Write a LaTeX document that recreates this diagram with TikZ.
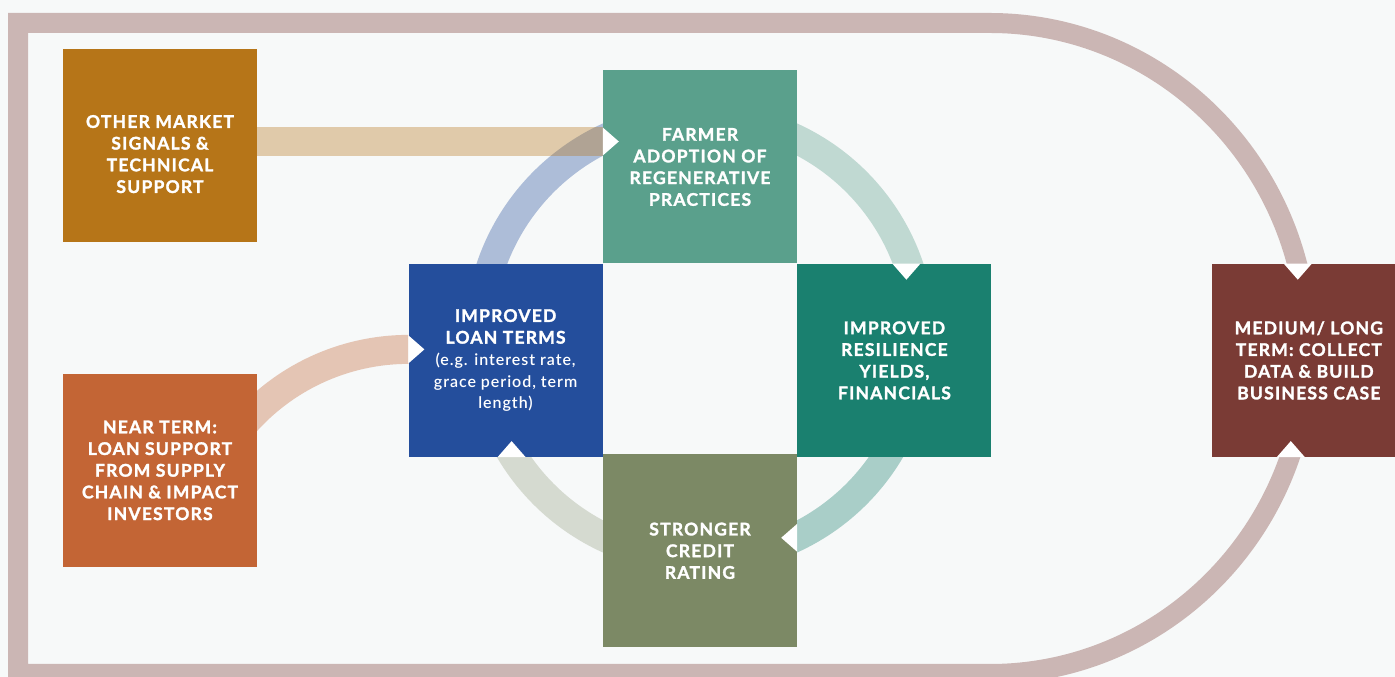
\documentclass[tikz,border=0pt]{standalone}
\usepackage{fontspec}
\usetikzlibrary{positioning, calc, backgrounds}

\newfontfamily\capsfont{Lato}[LetterSpace=7, BoldFeatures={FakeBold=1.6}]
\newfontfamily\notefont{Lato Light}[LetterSpace=6]
\newcommand\notetext{\notefont\fontsize{16}{21.5}\selectfont}

\definecolor{canvas}{HTML}{F7F9F9}
\definecolor{othercol}{HTML}{B67518}
\definecolor{nearcol}{HTML}{C36535}
\definecolor{farmercol}{HTML}{5AA08C}
\definecolor{loancol}{HTML}{244E9C}
\definecolor{resilcol}{HTML}{1A806F}
\definecolor{creditcol}{HTML}{7C8965}
\definecolor{medcol}{HTML}{7A3B35}

\begin{document}
\begin{tikzpicture}[
  x=1pt, y=1pt,
  tile/.style={minimum width=194, minimum height=193, inner sep=0, text=white, align=center, font=\capsfont\bfseries\fontsize{17.5}{21.7}\selectfont},
  flow/.style={line width=29, opacity=0.35},
  frameband/.style={line width=20, opacity=0.35, medcol},
  notch/.style={fill=white},
  ]

  \useasboundingbox (0,0) rectangle (1395,677);
  \begin{scope}[on background layer]
    \fill[canvas] (0,0) rectangle (1395,677);
  \end{scope}

  % Inputs
  \node[tile, fill=othercol] (other) at (160,531) {\rule{0pt}{29pt}OTHER MARKET\\SIGNALS \&\\TECHNICAL\\SUPPORT};
  \node[tile, fill=nearcol, below=131 of other] (near) {NEAR TERM:\\LOAN SUPPORT\\FROM SUPPLY\\CHAIN \& IMPACT\\INVESTORS};

  % Cycle
  \node[tile, fill=farmercol] (farmer) at (700,510) {FARMER\\ADOPTION OF\\REGENERATIVE\\PRACTICES};
  \node[tile, fill=loancol, below left=0 and 0 of farmer] (loan) {IMPROVED\\LOAN TERMS\\{\notetext(e.g. interest rate,}\\{\notetext grace period, term}\\{\notetext length)}};
  \node[tile, fill=resilcol, below right=0 and 0 of farmer] (resilience) {IMPROVED\\RESILIENCE\\YIELDS,\\FINANCIALS};
  \node[tile, fill=creditcol, below right=-3 and 0 of loan] (credit) {STRONGER\\CREDIT\\RATING};

  % Outcome
  \node[tile, fill=medcol, right=220 of resilience] (medium) {MEDIUM/ LONG\\TERM: COLLECT\\DATA \& BUILD\\BUSINESS CASE};

  \coordinate (hub) at (700,339);
  \coordinate (bend) at (990,328.5);
  \coordinate (corner-sw) at (18,3);
  \coordinate (corner-nw) at (18,654);
  \coordinate (farmer-in) at ($(farmer.west)+(0,25.5)$);
  \coordinate (resil-in) at ($(resilience.north)+(12,0)$);
  \coordinate (credit-in) at ($(credit.east)+(0,13)$);
  \coordinate (loan-in) at ($(loan.south)+(6,0)$);
  \coordinate (loan-in2) at ($(loan.west)+(0,11)$);
  \coordinate (med-in) at ($(medium.north)+(-11,0)$);
  \coordinate (med-in2) at ($(medium.south)+(-18,0)$);

  \begin{scope}[on background layer]
    \draw[flow, loancol] ([shift={(165:221)}]hub) arc[start angle=165, end angle=110, radius=221];
    \draw[flow, othercol] (other.center |- farmer-in) -- (farmer-in);
    \draw[flow, farmercol] ([shift={(70:221)}]hub) arc[start angle=70, end angle=15, radius=221];
    \draw[flow, resilcol] ([shift={(-25:221)}]hub) arc[start angle=-25, end angle=-70, radius=221];
    \draw[flow, creditcol, opacity=0.27] ([shift={(-110:221)}]hub) arc[start angle=-110, end angle=-155, radius=221];
    \draw[flow, nearcol] (loan-in2) arc[start angle=90, end angle=140, radius=218.6];

    % Outer loop
    \draw[frameband] ([shift={(-10:318 and 325.5)}]bend) arc[start angle=-10, end angle=-90, x radius=318, y radius=325.5]
      -- (corner-sw) -- (corner-nw) -- (bend |- corner-nw)
      arc[start angle=90, end angle=10, x radius=318, y radius=325.5];
  \end{scope}

  \foreach \p/\r in {farmer-in/0, resil-in/-90, credit-in/180, loan-in/90, loan-in2/0, med-in/-90, med-in2/90}
    \fill[notch, shift={(\p)}, rotate=\r] (0,14) -- (16,0) -- (0,-14) -- cycle;

\end{tikzpicture}
\end{document}
